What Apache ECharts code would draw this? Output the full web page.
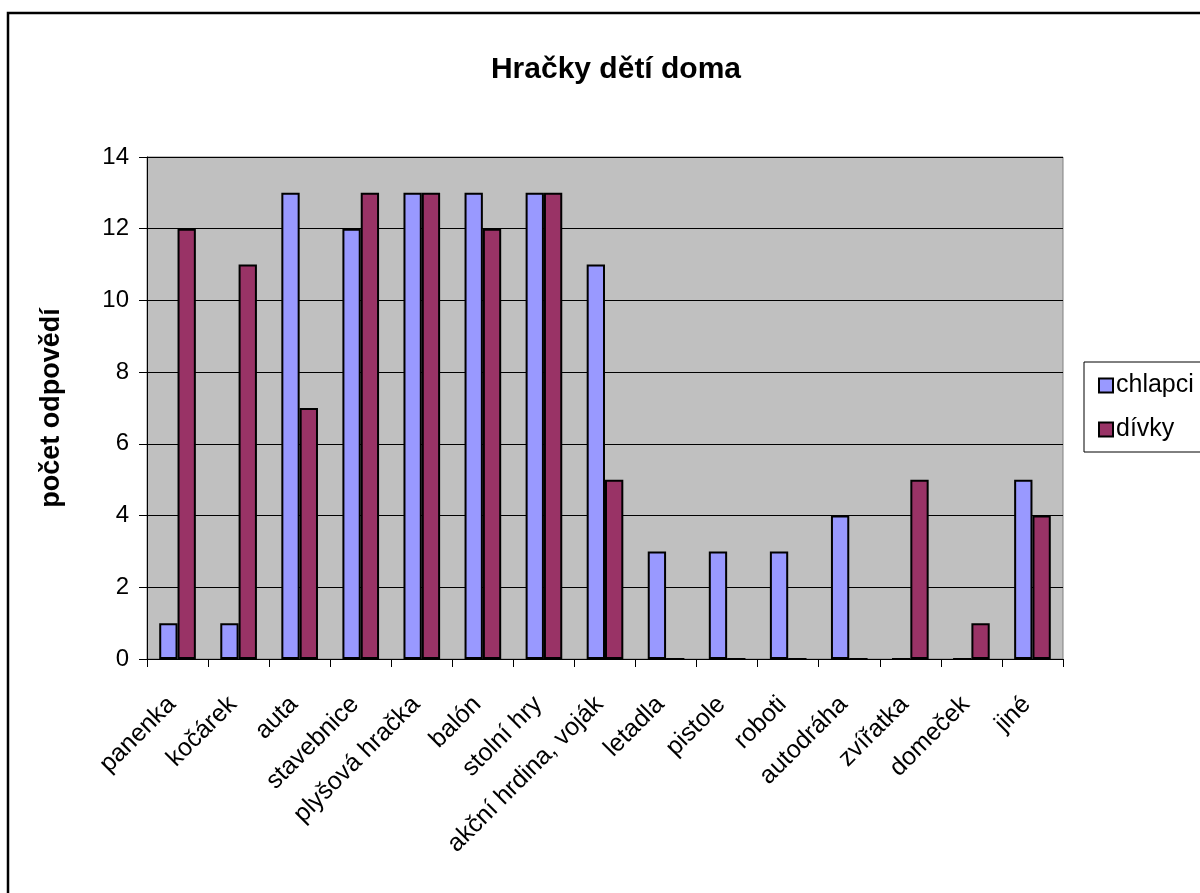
<!DOCTYPE html>
<html>
<head>
<meta charset="utf-8">
<script src="https://cdn.jsdelivr.net/npm/echarts@6/dist/echarts.min.js"></script>
<style>
  html, body { margin: 0; padding: 0; background: #fff; }
  #chart { width: 1200px; height: 893px; }
</style>
</head>
<body>
<div id="chart"></div>
<script>
const categories = ['panenka', 'kočárek', 'auta', 'stavebnice', 'plyšová hračka', 'balón', 'stolní hry',
  'akční hrdina, voják', 'letadla', 'pistole', 'roboti', 'autodráha', 'zvířatka', 'domeček', 'jiné']
const chlapci = [1, 1, 13, 12, 13, 13, 13, 11, 3, 3, 3, 4, 0, 0, 5]
const divky = [12, 11, 7, 13, 13, 12, 13, 5, 0, 0, 0, 0, 5, 1, 4]

const font = '"Liberation Sans", Arial, sans-serif'
const chart = echarts.init(document.getElementById('chart'))

const barStyle = color => ({ color: color, borderColor: '#000', borderWidth: 2 })

chart.setOption({
  animation: false,
  textStyle: { fontFamily: font },
  title: {
    text: 'Hračky dětí doma',
    left: 611,
    textAlign: 'center',
    top: 50,
    textStyle: { fontFamily: font, fontSize: 30, fontWeight: 'bold', color: '#000' }
  },
  graphic: [{
    type: 'rect',
    shape: { x: 8, y: 13, width: 1300, height: 1000 },
    style: { fill: 'none', stroke: '#000', lineWidth: 2.5 },
    silent: true
  }],
  legend: {
    orient: 'vertical',
    left: 1084,
    top: 362,
    padding: [11, 30, 10, 14],
    itemGap: 19,
    itemWidth: 14,
    itemHeight: 14,
    icon: 'rect',
    borderColor: '#000',
    borderWidth: 1,
    itemStyle: { borderColor: '#000', borderWidth: 2 },
    textStyle: { fontFamily: font, fontSize: 25, color: '#000', padding: [0, 0, 0, -2] },
    data: ['chlapci', 'dívky']
  },
  grid: {
    left: 147, top: 157, width: 916, height: 502,
    show: true, backgroundColor: '#c0c0c0', borderColor: '#808080', borderWidth: 1
  },
  xAxis: {
    type: 'category',
    data: categories,
    axisLine: { lineStyle: { color: '#000', width: 1 } },
    axisTick: { show: true, alignWithLabel: false, length: 8, lineStyle: { color: '#000' } },
    axisLabel: {
      interval: 0, rotate: 45, margin: 36, padding: [0, 8, 0, 0],
      fontFamily: font, fontSize: 25, color: '#000'
    }
  },
  yAxis: {
    type: 'value',
    min: 0, max: 14, interval: 2,
    name: 'počet odpovědí',
    nameLocation: 'middle',
    nameGap: 82,
    nameRotate: 90,
    nameTextStyle: { fontFamily: font, fontSize: 27, fontWeight: 'bold', color: '#000' },
    axisLine: { show: true, lineStyle: { color: '#000', width: 1 } },
    axisTick: { show: true, length: 8, lineStyle: { color: '#000' } },
    axisLabel: { margin: 18, fontFamily: font, fontSize: 24, color: '#000' },
    splitLine: { lineStyle: { color: '#000', width: 1 } }
  },
  series: [
    { name: 'chlapci', type: 'bar', data: chlapci, barGap: '0%', barCategoryGap: '40%', itemStyle: barStyle('#9999ff') },
    { name: 'dívky', type: 'bar', data: divky, barGap: '0%', barCategoryGap: '40%', itemStyle: barStyle('#993366') }
  ]
})
</script>
</body>
</html>
